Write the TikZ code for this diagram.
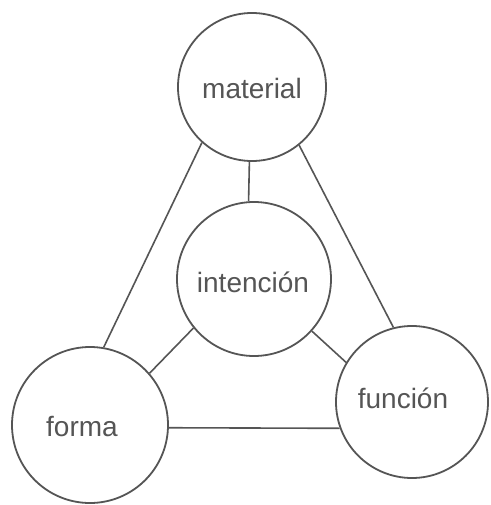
\documentclass[tikz,border=0pt]{standalone}
\usepackage{fontspec}
\setmainfont{Liberation Sans}
\definecolor{ink}{HTML}{555555}
\begin{document}
\begin{tikzpicture}[x=1pt,y=-1pt,
  ring/.style={circle,draw=ink,line width=1.8pt,fill=white,inner sep=0pt},
  word/.style={text=ink,font=\fontsize{28}{30}\selectfont,inner sep=0pt},
  link/.style={draw=ink,line width=1.6pt}]
\useasboundingbox[fill=white] (0,0) rectangle (490,505);
\node[ring,minimum size=148pt] (material) at (252,87) {};
\node[ring,minimum size=154pt] (intencion) at (254,279) {};
\node[ring,minimum size=156pt] (forma) at (90,425) {};
\node[ring,minimum size=152pt] (funcion) at (412,402) {};
\node[word] (tmaterial) at (252,88) {material};
\node[word] (tintencion) at (253,282) {intención};
\node[word] (tforma) at (82,427) {forma};
\node[word] (tfuncion) at (403,398) {función};
\draw[link] (material.268) -- (intencion.94);
\draw[link] (material.228) -- (forma.80);
\draw[link] (material.309) -- (funcion.104);
\draw[link] (intencion.219) -- (forma.41);
\draw[link] (intencion.318) -- (funcion.149);
\draw[link] (forma.358) -- (funcion.200);
\end{tikzpicture}
\end{document}
